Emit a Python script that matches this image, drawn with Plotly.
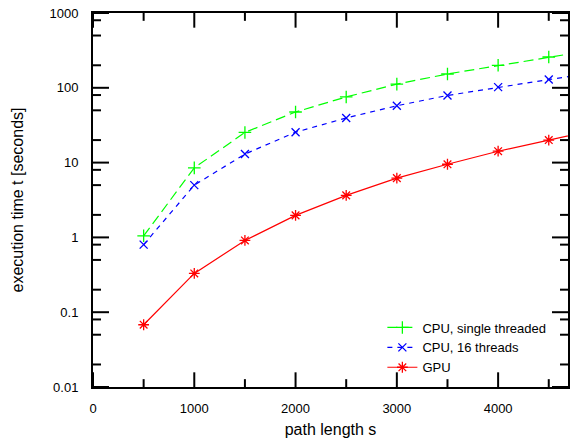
import plotly.graph_objects as go

path_length = [500, 1000, 1500, 2000, 2500, 3000, 3500, 4000, 4500, 5000]
cpu_single = [1.05, 8.5, 25.3, 47.5, 75.5, 112, 153, 200, 258, 330]
cpu_16 = [0.8, 5.0, 13.0, 25.5, 39.5, 57.5, 79, 102, 129, 162]
gpu = [0.068, 0.33, 0.91, 1.97, 3.65, 6.2, 9.5, 14.2, 20.0, 28.0]

x_ticks = [0, 1000, 2000, 3000, 4000]
x_minor = [500, 1500, 2500, 3500, 4500]
y_ticks = [0.01, 0.1, 1, 10, 100, 1000]
y_ticklabels = ["0.01", "0.1", "1", "10", "100", "1000"]
y_minor = [m * d for d in [0.01, 0.1, 1, 10, 100] for m in (2, 5, 8)]

W, H = 578, 442
ML, MR, MT, MB = 93, 10, 6, 54
plot_w = W - ML - MR
plot_h = H - MT - MB

fig = go.Figure()
fig.add_trace(go.Scatter(
    x=path_length, y=cpu_single, name="CPU, single threaded",
    mode="lines+markers",
    line=dict(color="#00ff00", width=1.2, dash="10px,5px"),
    marker=dict(symbol="cross-thin", size=9, line=dict(color="#00ff00", width=1.3)),
))
fig.add_trace(go.Scatter(
    x=path_length, y=cpu_16, name="CPU, 16 threads",
    mode="lines+markers",
    line=dict(color="#0000ff", width=1.2, dash="5px,5px"),
    marker=dict(symbol="x-thin", size=8, line=dict(color="#0000ff", width=1.3)),
))
fig.add_trace(go.Scatter(
    x=path_length, y=gpu, name="GPU",
    mode="lines+markers",
    line=dict(color="#ff0000", width=1.2),
    marker=dict(symbol="asterisk", size=9, line=dict(color="#ff0000", width=1.3)),
))

# Inward tick marks on all four sides, drawn as line shapes
tick_line = dict(color="#000000", width=2)
shapes = []
for vals, length in ((x_ticks, 15), (x_minor, 8)):
    f = length / plot_h
    for v in vals:
        shapes.append(dict(type="line", xref="x", yref="paper", x0=v, x1=v,
                           y0=0, y1=f, line=tick_line, layer="above"))
        shapes.append(dict(type="line", xref="x", yref="paper", x0=v, x1=v,
                           y0=1, y1=1 - f, line=tick_line, layer="above"))
for vals, length in ((y_ticks, 16), (y_minor, 8)):
    f = length / plot_w
    for v in vals:
        shapes.append(dict(type="line", yref="y", xref="paper", y0=v, y1=v,
                           x0=0, x1=f, line=tick_line, layer="above"))
        shapes.append(dict(type="line", yref="y", xref="paper", y0=v, y1=v,
                           x0=1, x1=1 - f, line=tick_line, layer="above"))

font = dict(family="Liberation Sans, Arial, sans-serif", size=13, color="black")

fig.update_layout(
    width=W, height=H,
    margin=dict(l=ML, r=MR, t=MT, b=MB),
    paper_bgcolor="white", plot_bgcolor="white",
    font=font,
    showlegend=True,
    shapes=shapes,
    legend=dict(
        x=0.965, y=0.012, xanchor="right", yanchor="bottom",
        bgcolor="rgba(0,0,0,0)", borderwidth=0,
        font=dict(family="Liberation Sans, Arial, sans-serif", size=13),
        tracegroupgap=0,
    ),
    xaxis=dict(
        range=[0, 4690],
        tickmode="array", tickvals=x_ticks,
        ticks="",
        showline=True, linewidth=2, linecolor="#000000", mirror=True,
        showgrid=False, zeroline=False,
        ticklabelstandoff=8,
        title=dict(text="path length s", standoff=9),
    ),
    yaxis=dict(
        type="log", range=[-2, 3],
        tickmode="array", tickvals=y_ticks, ticktext=y_ticklabels,
        ticks="",
        showline=True, linewidth=2, linecolor="#000000", mirror=True,
        showgrid=False, zeroline=False,
        ticklabelstandoff=10,
        title=dict(text="execution time t [seconds]", standoff=22),
    ),
)

fig.write_html("out.html", post_script="document.body.style.margin='0';",
               config={"displayModeBar": False})
